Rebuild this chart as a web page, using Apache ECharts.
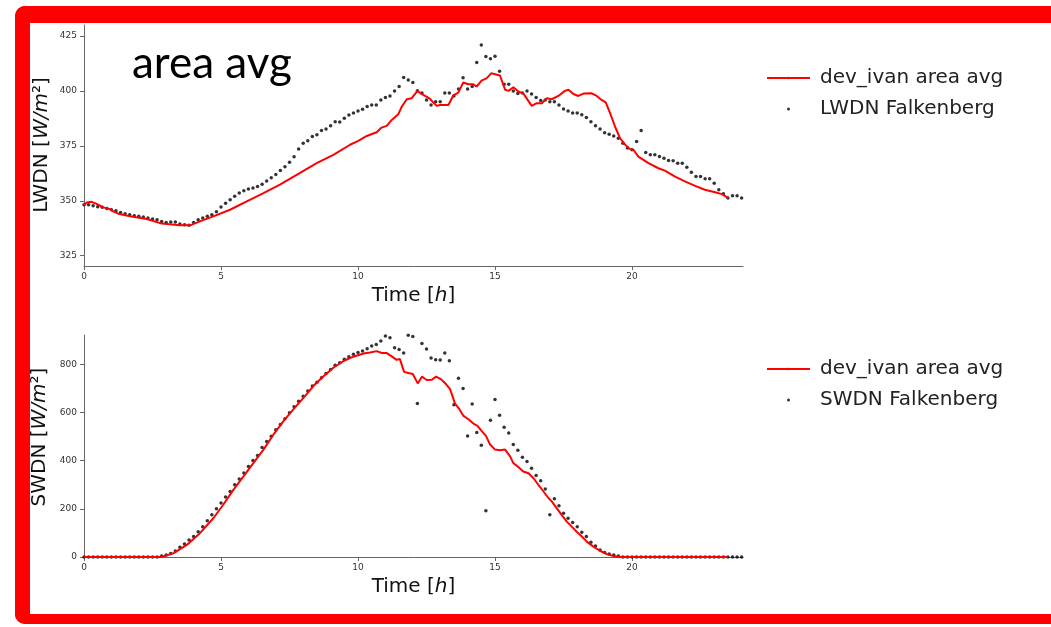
<!DOCTYPE html>
<html>
<head>
<meta charset="utf-8">
<script src="https://cdn.jsdelivr.net/npm/echarts@6/dist/echarts.min.js"></script>
<style>
  html, body { margin: 0; padding: 0; background: #ffffff; overflow: hidden; }
  #frame {
    position: absolute; left: 15px; top: 6px; width: 1100px; height: 618px;
    box-sizing: border-box; border-style: solid; border-color: #ff0000;
    border-width: 17px 0 10px 15px; border-radius: 10px 0 0 10px;
  }
  #chart { position: absolute; left: 0; top: 0; width: 1051px; height: 627px; }
</style>
</head>
<body>
<div id="frame"></div>
<div id="chart"></div>
<script>
// Station observations: one value every 10 minutes from 0 h to 24 h
const obsStepHours = 10 / 60;

const lwdnObs = [
  348.2, 348.2, 347.7, 347.3, 347.0, 346.5, 345.9, 345.5, 344.7, 344.1,
  343.6, 343.2, 342.9, 342.6, 342.1, 341.7, 341.4, 340.6, 340.1, 340.3,
  340.3, 339.4, 339.1, 338.9, 340.1, 341.4, 342.1, 342.9, 343.6, 345.0,
  347.1, 348.9, 350.5, 352.0, 353.5, 354.5, 355.3, 355.8, 356.5, 357.5,
  359.0, 360.5, 362.0, 363.8, 365.5, 367.5, 370.0, 373.5, 376.2, 377.3,
  379.2, 380.0, 382.0, 382.7, 384.1, 386.0, 385.8, 387.6, 389.0, 389.9,
  390.9, 391.7, 392.9, 393.6, 393.6, 395.9, 397.0, 397.7, 400.0, 402.0,
  406.1, 405.0, 403.8, 400.1, 399.0, 395.9, 393.6, 395.1, 395.1, 399.0,
  399.0, 397.7, 400.9, 406.0, 400.9, 402.0, 412.9, 420.9, 415.7, 414.6,
  415.8, 409.0, 403.0, 403.0, 400.0, 398.8, 399.0, 400.0, 398.6, 397.0,
  395.6, 395.9, 395.1, 395.1, 393.6, 391.8, 390.9, 389.9, 389.9, 389.1,
  387.9, 386.0, 384.1, 382.7, 381.0, 380.3, 379.5, 378.5, 376.2, 374.0,
  373.2, 377.0, 382.0, 372.0, 370.9, 370.9, 370.1, 369.4, 368.3, 368.2,
  367.1, 367.1, 365.2, 363.0, 361.0, 361.0, 360.0, 360.0, 358.0, 355.0,
  353.2, 351.2, 352.3, 352.3, 351.2
];

const swdnObs = [
  0, 0, 0, 0, 0, 0, 0, 0, 0, 0,
  0, 0, 0, 0, 0, 0, 0, 4, 8, 15,
  25, 40, 54, 71, 85, 105, 126, 151, 175, 200,
  224, 249, 272, 300, 324, 349, 376, 401, 422, 455,
  480, 501, 529, 550, 574, 599, 624, 647, 668, 689,
  710, 726, 744, 762, 779, 796, 807, 821, 832, 842,
  849, 856, 865, 876, 883, 897, 918, 911, 869, 862,
  847, 921, 916, 638, 887, 864, 826, 819, 818, 847,
  815, 632, 742, 700, 503, 635, 517, 464, 192, 568,
  654, 589, 539, 515, 467, 443, 414, 397, 369, 339,
  317, 282, 175, 242, 213, 182, 161, 143, 126, 103,
  85, 61, 46, 29, 19, 12, 8, 4, 0, 0,
  0, 0, 0, 0, 0, 0, 0, 0, 0, 0,
  0, 0, 0, 0, 0, 0, 0, 0, 0, 0,
  0, 0, 0, 0, 0
];

// Model run (dev_ivan, area average)
const modelLwHours = [
  0, 0.1, 0.28, 0.46, 0.71, 0.95, 1.07, 1.25, 1.68, 2.29,
  2.84, 3.5, 3.87, 4.23, 4.72, 5.33, 5.94, 6.55, 7.15, 7.76,
  8.49, 9.1, 9.71, 10.01, 10.32, 10.68, 10.86, 11.05, 11.23, 11.47,
  11.6, 11.78, 11.96, 12.02, 12.17, 12.33, 12.5, 12.63, 12.75, 12.87,
  12.99, 13.3, 13.48, 13.66, 13.84, 14.03, 14.21, 14.33, 14.51, 14.7,
  14.86, 15.18, 15.37, 15.49, 15.67, 15.85, 16.03, 16.34, 16.52, 16.71,
  16.89, 17.07, 17.31, 17.55, 17.68, 17.86, 18.04, 18.23, 18.53, 18.71,
  18.89, 19.04, 19.2, 19.38, 19.56, 19.75, 19.93, 20.05, 20.23, 20.6,
  20.96, 21.2, 21.57, 21.93, 22.3, 22.66, 23.03, 23.28, 23.52
];
const modelLw = [
  348.0, 349.2, 349.5, 348.6, 347.0, 346.2, 345.2, 344.1, 342.9, 341.7,
  339.6, 338.8, 338.8, 340.6, 342.9, 345.9, 349.7, 353.5, 357.3, 361.8,
  367.1, 370.9, 375.5, 377.3, 379.5, 381.2, 383.3, 384.1, 386.8, 389.4,
  392.9, 396.2, 396.7, 396.2, 400.0, 398.5, 397.4, 396.4, 394.7, 393.2,
  393.6, 393.6, 398.0, 399.2, 403.8, 403.0, 403.0, 402.0, 404.7, 405.8,
  408.0, 407.0, 400.5, 400.0, 401.7, 399.7, 398.9, 393.2, 394.4, 394.4,
  396.7, 396.2, 397.7, 400.0, 400.5, 398.6, 397.7, 398.8, 398.9, 397.7,
  395.9, 394.8, 389.9, 383.8, 378.5, 375.5, 373.5, 373.2, 370.1, 367.1,
  364.8, 363.7, 361.0, 358.8, 356.8, 355.0, 353.9, 353.0, 351.2
];

const modelSwHours = [
  0, 2.83, 3.26, 3.75, 4.23, 4.72, 5.08, 5.45, 5.82, 6.18,
  6.55, 6.91, 7.28, 7.64, 8.01, 8.37, 8.74, 9.1, 9.47, 9.83,
  10.2, 10.44, 10.68, 10.87, 11.05, 11.23, 11.41, 11.53, 11.68, 11.84,
  12.0, 12.18, 12.33, 12.51, 12.69, 12.85, 13.02, 13.18, 13.36, 13.54,
  13.7, 13.85, 14.03, 14.21, 14.36, 14.51, 14.67, 14.82, 15.0, 15.18,
  15.37, 15.55, 15.67, 15.85, 16.03, 16.22, 16.4, 16.58, 16.77, 16.95,
  17.07, 17.25, 17.43, 17.62, 17.8, 17.98, 18.17, 18.35, 18.59, 18.83,
  19.08, 19.32, 19.57, 23.5
];
const modelSw = [
  0, 0, 15, 50, 99, 161, 217, 279, 335, 390,
  446, 508, 564, 613, 661, 710, 751, 786, 814, 832,
  845, 849, 855, 847, 847, 833, 819, 822, 769, 764,
  760, 721, 749, 735, 736, 749, 739, 722, 697, 637,
  614, 586, 572, 554, 545, 524, 503, 467, 446, 443,
  446, 418, 390, 374, 355, 348, 328, 300, 272, 245,
  231, 203, 175, 147, 126, 105, 85, 64, 43, 26,
  12, 4, 0, 0
];

const hourTicks = [0, 5, 10, 15, 20];
const lwdnTicks = [325, 350, 375, 400, 425];
const swdnTicks = [0, 200, 400, 600, 800];

const modelName = 'dev_ivan area avg';
const lwdnName = 'LWDN Falkenberg';
const swdnName = 'SWDN Falkenberg';

const pair = (xs, ys) => xs.map((x, i) => [x, ys[i]]);
const obsPairs = vals => vals.map((v, i) => [i * obsStepHours, v]);

const tickFont = { fontFamily: 'DejaVu Sans', fontSize: 9, color: '#333333' };
const axisLineStyle = { color: '#666666', width: 1 };

function timeAxis(gridIndex) {
  return {
    type: 'value', gridIndex: gridIndex, min: 0, max: 24.05,
    axisLine: { show: true, lineStyle: axisLineStyle },
    axisTick: { show: true, length: 4, lineStyle: axisLineStyle, customValues: hourTicks },
    axisLabel: Object.assign({ margin: 6, customValues: hourTicks }, tickFont),
    splitLine: { show: false }
  };
}
function valueAxis(gridIndex, min, max, ticks) {
  return {
    type: 'value', gridIndex: gridIndex, min: min, max: max,
    axisLine: { show: true, lineStyle: axisLineStyle },
    axisTick: { show: true, length: 4, lineStyle: axisLineStyle, customValues: ticks },
    axisLabel: Object.assign({ margin: 7, customValues: ticks }, tickFont),
    splitLine: { show: false }
  };
}

const labelFont = '20px "DejaVu Sans"';
const labelItalic = 'italic 20px "DejaVu Sans"';

function legendBlock(top, obsName) {
  return {
    orient: 'vertical', left: 761, top: top,
    itemWidth: 43, itemHeight: 3, itemGap: 11,
    selectedMode: false,
    data: [{ name: modelName }, { name: obsName, icon: 'circle' }],
    textStyle: { fontFamily: 'DejaVu Sans', fontSize: 20, color: '#222222', padding: [0, 0, 0, 5] }
  };
}

const chart = echarts.init(document.getElementById('chart'), null, { renderer: 'canvas' });
chart.setOption({
  animation: false,
  backgroundColor: 'transparent',
  grid: [
    { left: 84, top: 25, width: 659, height: 241 },
    { left: 84, top: 335, width: 659, height: 222 }
  ],
  xAxis: [timeAxis(0), timeAxis(1)],
  yAxis: [
    valueAxis(0, 320.3, 430, lwdnTicks),
    valueAxis(1, 0, 922, swdnTicks)
  ],
  legend: [legendBlock(63, lwdnName), legendBlock(354, swdnName)],
  series: [
    {
      name: lwdnName, type: 'scatter', xAxisIndex: 0, yAxisIndex: 0,
      data: obsPairs(lwdnObs), symbol: 'circle', symbolSize: 3.5,
      itemStyle: { color: '#000000' }, z: 2
    },
    {
      name: modelName, type: 'line', xAxisIndex: 0, yAxisIndex: 0,
      data: pair(modelLwHours, modelLw), symbol: 'none', showSymbol: false,
      lineStyle: { color: '#ff0000', width: 2 }, itemStyle: { color: '#ff0000' }, z: 3
    },
    {
      name: swdnName, type: 'scatter', xAxisIndex: 1, yAxisIndex: 1,
      data: obsPairs(swdnObs), symbol: 'circle', symbolSize: 3.5,
      itemStyle: { color: '#000000' }, z: 2
    },
    {
      name: modelName, type: 'line', xAxisIndex: 1, yAxisIndex: 1,
      data: pair(modelSwHours, modelSw), symbol: 'none', showSymbol: false,
      lineStyle: { color: '#ff0000', width: 2 }, itemStyle: { color: '#ff0000' }, z: 3
    }
  ],
  graphic: [
    {
      type: 'text', x: 132, y: 64,
      style: { text: 'area avg', font: '44px Lato', fill: '#000000', align: 'left', verticalAlign: 'middle' }
    },
    {
      type: 'text', x: 42, y: 145, rotation: Math.PI / 2,
      style: {
        text: 'LWDN [{it|W/m}²]', font: labelFont, fill: '#111111', align: 'center', verticalAlign: 'middle',
        rich: { it: { font: labelItalic, fill: '#111111' } }
      }
    },
    {
      type: 'text', x: 413.5, y: 296,
      style: {
        text: 'Time [{it|h}]', font: labelFont, fill: '#111111', align: 'center', verticalAlign: 'middle',
        rich: { it: { font: labelItalic, fill: '#111111' } }
      }
    },
    {
      type: 'text', x: 40, y: 437, rotation: Math.PI / 2,
      style: {
        text: 'SWDN [{it|W/m}²]', font: labelFont, fill: '#111111', align: 'center', verticalAlign: 'middle',
        rich: { it: { font: labelItalic, fill: '#111111' } }
      }
    },
    {
      type: 'text', x: 413.5, y: 587,
      style: {
        text: 'Time [{it|h}]', font: labelFont, fill: '#111111', align: 'center', verticalAlign: 'middle',
        rich: { it: { font: labelItalic, fill: '#111111' } }
      }
    }
  ]
});
</script>
</body>
</html>
